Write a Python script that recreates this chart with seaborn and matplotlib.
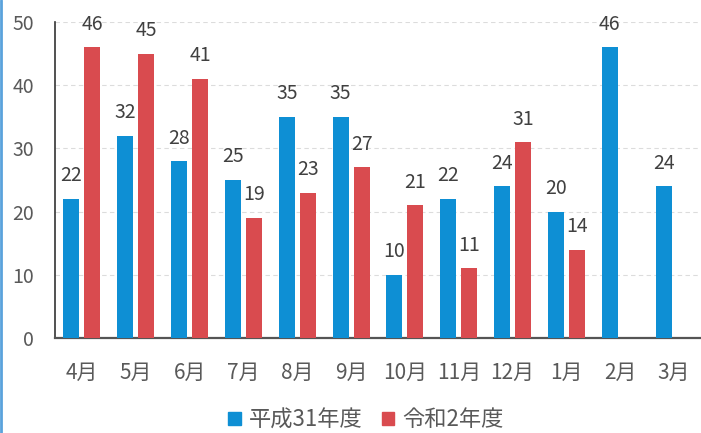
import matplotlib
matplotlib.use("Agg")
import matplotlib.pyplot as plt
from matplotlib.lines import Line2D
import seaborn as sns
import pandas as pd

months = ['4月', '5月', '6月', '7月', '8月', '9月', '10月', '11月', '12月', '1月', '2月', '3月']
series_names = ['平成31年度', '令和2年度']
h31_values = [22, 32, 28, 25, 35, 35, 10, 22, 24, 20, 46, 24]
r2_values = [46, 45, 41, 19, 23, 27, 21, 11, 31, 14, None, None]
y_ticks = [0, 10, 20, 30, 40, 50]

colors = ['#0e8fd4', '#d94b4f']

rows = []
for m, v in zip(months, h31_values):
    if v is not None:
        rows.append({'month': m, 'series': series_names[0], 'value': v})
for m, v in zip(months, r2_values):
    if v is not None:
        rows.append({'month': m, 'series': series_names[1], 'value': v})
df = pd.DataFrame(rows)

sns.set_style('white')
plt.rcParams['font.family'] = ['Noto Sans CJK JP', 'DejaVu Sans']

fig = plt.figure(figsize=(7.01, 4.33), dpi=100)
ax = fig.add_axes([55 / 701, (433 - 338) / 433, (701 - 55) / 701, (338 - 22) / 433])

sns.barplot(data=df, x='month', y='value', hue='series', order=months,
            hue_order=series_names, palette=colors, width=0.78, gap=0.24,
            saturation=1, errorbar=None, ax=ax, zorder=3, linewidth=0)

for cont in ax.containers:
    ax.bar_label(cont, fmt='%g', padding=9, fontsize=14, color='#404040')

ax.set_ylim(0, 50)
ax.set_xlim(-0.5, 11.5)
ax.set_yticks(y_ticks)
ax.set_xlabel('')
ax.set_ylabel('')
ax.yaxis.grid(True, color='#dcdcdc', linestyle=(0, (4, 3)), linewidth=0.8)
ax.set_axisbelow(True)
ax.tick_params(axis='y', length=0, pad=15, labelsize=14, labelcolor='#595959')
ax.tick_params(axis='x', length=0, pad=17, labelsize=15, labelcolor='#595959')

for s in ['top', 'right']:
    ax.spines[s].set_visible(False)
ax.spines['left'].set_color('#333333')
ax.spines['left'].set_linewidth(1.2)
ax.spines['bottom'].set_color('#555555')
ax.spines['bottom'].set_linewidth(1.6)

ax.legend_.remove()
handles = [plt.Rectangle((0, 0), 1, 1, color=c) for c in colors]
fig.legend(handles, series_names, loc='center', bbox_to_anchor=(366 / 701, 1 - 420 / 433),
           ncol=2, frameon=False, fontsize=16, handlelength=0.55, handleheight=0.55,
           handletextpad=0.35, columnspacing=0.9, labelcolor='#595959')

fig.add_artist(Line2D([0.002, 0.002], [0, 1], transform=fig.transFigure,
                      color='#5aa2dc', lw=2))

fig.savefig('out.png', dpi=100)
